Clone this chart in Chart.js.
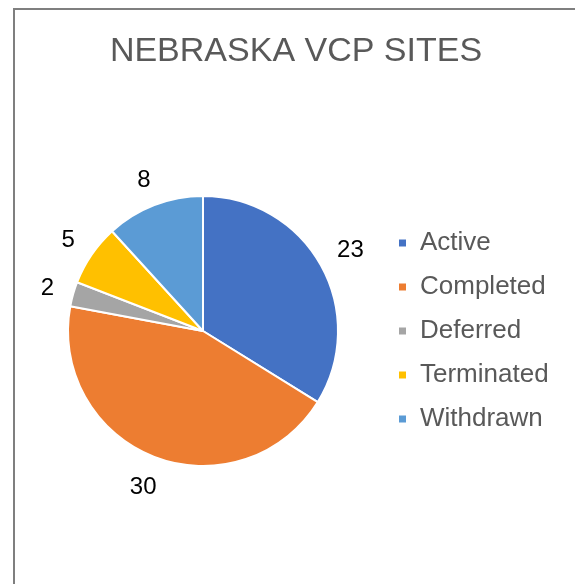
<!DOCTYPE html>
<html>
<head>
<meta charset="utf-8">
<script src="https://cdn.jsdelivr.net/npm/chart.js@4.4.0/dist/chart.umd.min.js"></script>
<style>
    html, body { margin: 0; padding: 0; background: #fff; overflow: hidden; }
    #frame {
        position: absolute; left: 13px; top: 8px; width: 700px; height: 700px;
        border-left: 2px solid #7f7f7f; border-top: 2px solid #7f7f7f;
    }
    #wrap { position: absolute; left: 0; top: 0; width: 575px; height: 584px; }
</style>
</head>
<body>
<div id="frame"></div>
<div id="wrap"><canvas id="pie" width="575" height="584"></canvas></div>
<script>
/* DATA */
const categories = ["Active", "Completed", "Deferred", "Terminated", "Withdrawn"];
const sites = [23, 30, 2, 5, 8];
const colors = ["#4472C4", "#ED7D31", "#A5A5A5", "#FFC000", "#5B9BD5"];

const FONT = "'Liberation Sans', Arial, sans-serif";
const LEGEND_W = 186;

/* legend gets a fixed width so the title centre lands where Excel put it */
const legendWidth = {
    id: "legendWidth",
    beforeLayout(chart) {
        const lg = chart.legend;
        if (!lg || lg._fixed) return;
        const fit = lg.fit.bind(lg);
        lg.fit = function () { fit(); this.width = LEGEND_W; };
        lg._fixed = true;
    }
};

/* outside-end value labels */
const pieLabels = {
    id: "pieLabels",
    afterDatasetsDraw(chart) {
        const ctx = chart.ctx;
        const meta = chart.getDatasetMeta(0);
        ctx.save();
        ctx.font = "24px " + FONT;
        ctx.fillStyle = "#000";
        ctx.textAlign = "center";
        ctx.textBaseline = "middle";
        meta.data.forEach((arc, i) => {
            const p = arc.getProps(["x", "y", "startAngle", "endAngle", "outerRadius"], true);
            const mid = (p.startAngle + p.endAngle) / 2;
            const text = String(sites[i]);
            const w = ctx.measureText(text).width;
            const h = 17;
            const cos = Math.cos(mid), sin = Math.sin(mid);
            const d = p.outerRadius + 18 + Math.abs(cos) * w / 2 + Math.abs(sin) * h / 2;
            ctx.fillText(text, p.x + cos * d, p.y + sin * d + 1.5);
        });
        ctx.restore();
    }
};

new Chart(document.getElementById("pie"), {
    type: "pie",
    data: {
        labels: categories,
        datasets: [{
            data: sites,
            backgroundColor: colors,
            borderColor: "#ffffff",
            borderWidth: 2
        }]
    },
    options: {
        responsive: false,
        animation: false,
        layout: { padding: { left: 26, right: 9, top: 0, bottom: 117 } },
        plugins: {
            title: {
                display: true,
                text: "NEBRASKA VCP SITES",
                color: "#595959",
                font: { family: FONT, size: 34, weight: "normal", lineHeight: 1.2 },
                padding: { top: 31, bottom: 123.2 }
            },
            legend: {
                position: "right",
                align: "center",
                fullSize: false,
                labels: {
                    color: "#595959",
                    font: { family: FONT, size: 26 },
                    boxWidth: 9,
                    boxHeight: 9,
                    padding: 18
                }
            },
            tooltip: { enabled: false }
        }
    },
    plugins: [legendWidth, pieLabels]
});
</script>
</body>
</html>
